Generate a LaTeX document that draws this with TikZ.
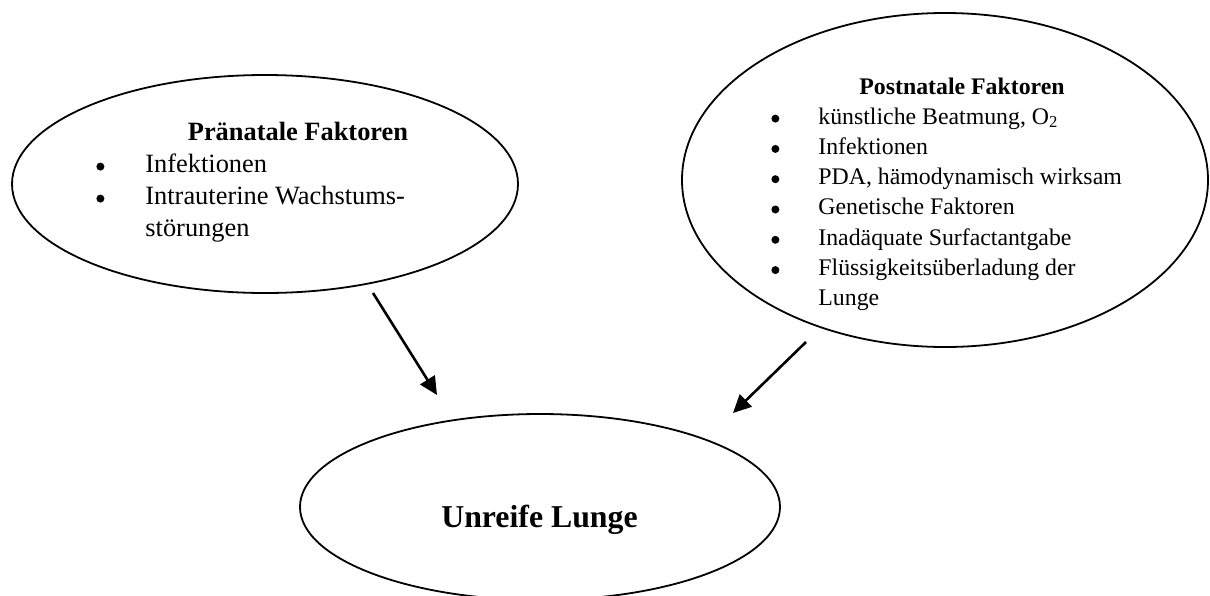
\documentclass[tikz,border=0pt]{standalone}
\usepackage{fontspec}
\setmainfont{Liberation Serif}
\usetikzlibrary{shapes.geometric,arrows.meta}

% Aufzaehlungspunkt links vor dem Text
\newcommand{\blt}[1]{\makebox[0pt][r]{\tikz[baseline=-2.7pt]\fill (0,0) circle (2pt);\hspace{#1}}}

\begin{document}
\begin{tikzpicture}[x=0.5pt, y=-0.5pt,
    oval/.style={ellipse, draw, line width=0.9pt, inner sep=0pt},
    titel/.style={anchor=base, inner sep=0pt},
    liste/.style={anchor=base west, inner sep=0pt},
    pfeil/.style={line width=1.3pt, -{Triangle[length=9pt,width=8.5pt]}}]
    \useasboundingbox (0,0) rectangle (1210,595);
    % === Ellipsen ===
    \node[oval, minimum width=253pt, minimum height=109pt] (prae) at (265,184) {};
    \node[oval, minimum width=263pt, minimum height=167pt] (post) at (945,180) {};
    \node[oval, minimum width=240pt, minimum height=93pt] (lunge) at (540,507) {};
    % Praenatale Faktoren
    \node[titel, font=\fontsize{13.2}{16}\selectfont\bfseries] (praetitel) at (298,140) {Pränatale Faktoren};
    \node[liste, font=\fontsize{13.2}{16}\selectfont] (praeliste) at (145,172) {%
        \begin{tabular}[t]{@{}l@{}}
        \blt{20.5pt}Infektionen\\
        \blt{20.5pt}Intrauterine Wachstums-\\
        störungen
        \end{tabular}};
    % Postnatale Faktoren
    \node[titel, font=\fontsize{11.9}{15.15}\selectfont\bfseries] (posttitel) at (962,94) {Postnatale Faktoren};
    \node[liste, font=\fontsize{11.9}{15.15}\selectfont] (postliste) at (818,124) {%
        \begin{tabular}[t]{@{}l@{}}
        \blt{19.5pt}künstliche Beatmung, O\textsubscript{2}\\
        \blt{19.5pt}Infektionen\\
        \blt{19.5pt}PDA, hämodynamisch wirksam\\
        \blt{19.5pt}Genetische Faktoren\\
        \blt{19.5pt}Inadäquate Surfactantgabe\\
        \blt{19.5pt}Flüssigkeitsüberladung der\\
        Lunge
        \end{tabular}};
    % Unreife Lunge
    \node[titel, font=\fontsize{15.9}{19}\selectfont\bfseries] (lungetitel) at (539.5,527) {Unreife Lunge};
    % Pfeile
    \coordinate (a1) at (373,293);
    \coordinate (b1) at (437,395);
    \coordinate (a2) at (806,342);
    \coordinate (b2) at (733,413);
    \draw[pfeil] (a1) -- (b1);
    \draw[pfeil] (a2) -- (b2);
\end{tikzpicture}
\end{document}
